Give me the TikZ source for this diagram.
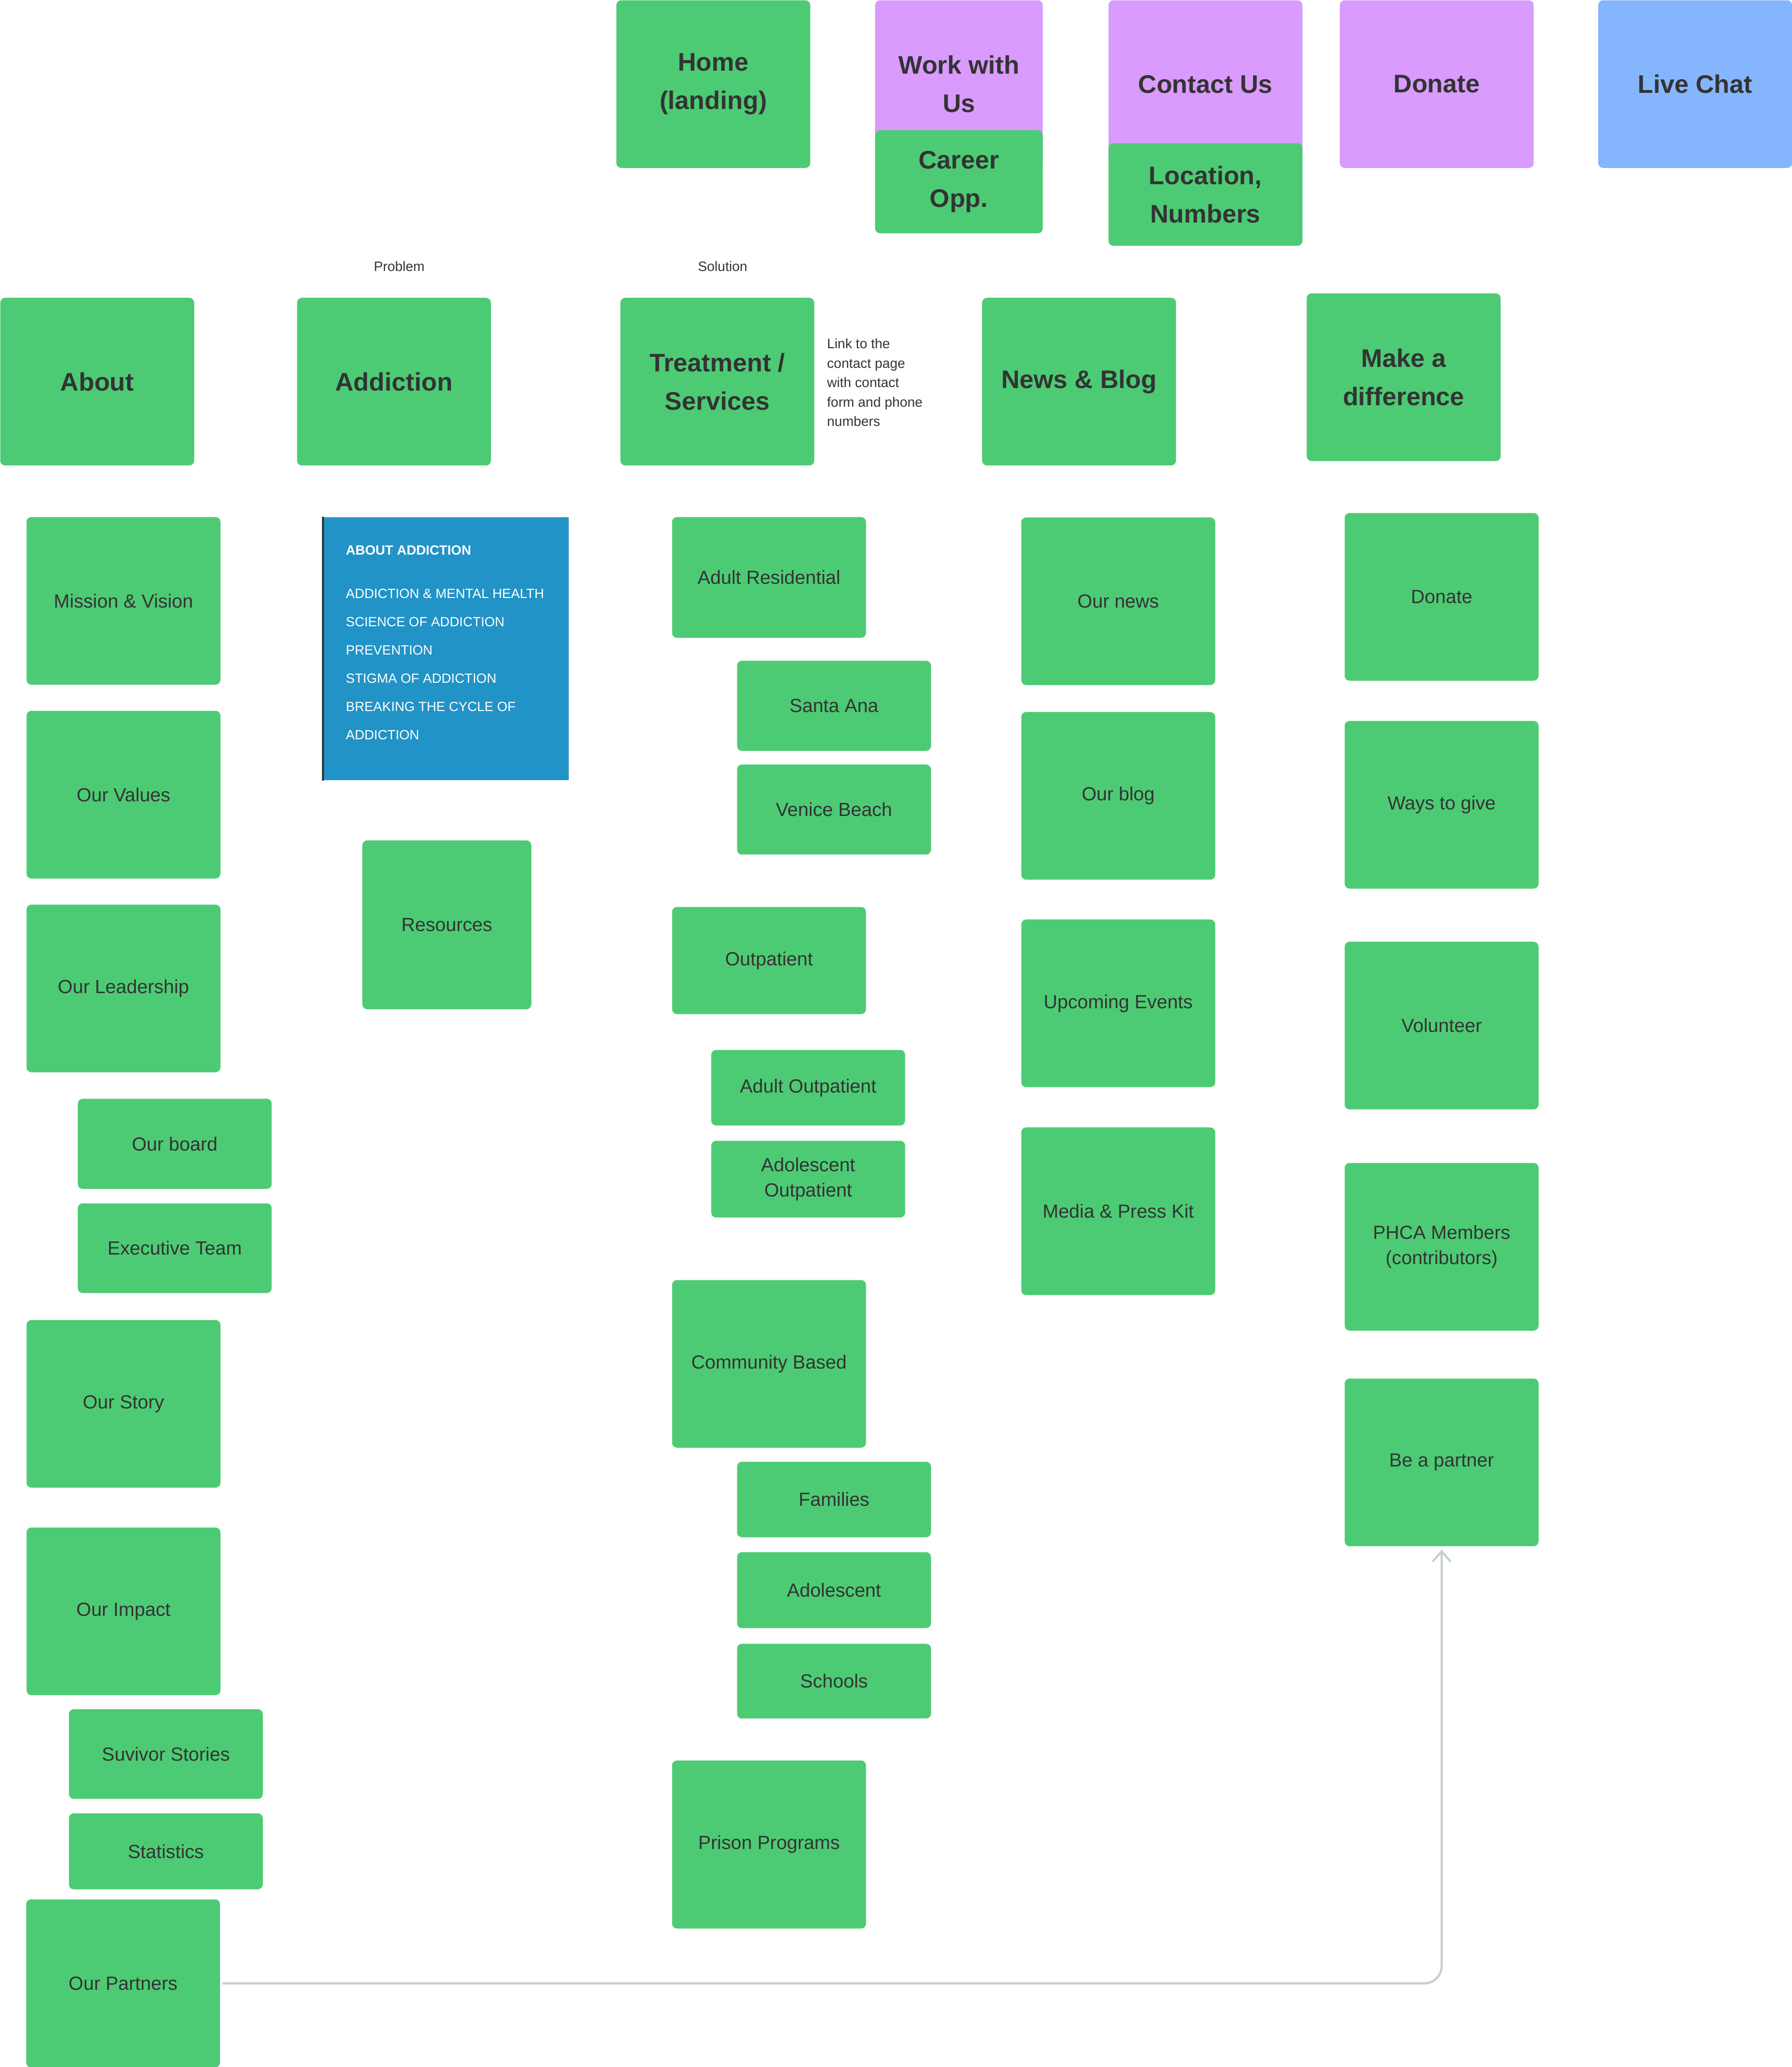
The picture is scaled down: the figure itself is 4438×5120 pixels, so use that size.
\documentclass[tikz,border=0pt]{standalone}
\usepackage{fontspec}
\setmainfont{Liberation Sans}
\usepackage{xcolor}
\usetikzlibrary{arrows.meta,positioning}
\definecolor{StickyGreen}{HTML}{4DCB74}
\definecolor{StickyViolet}{HTML}{D99BFD}
\definecolor{StickyBlue}{HTML}{85B6FD}
\definecolor{InkGrey}{HTML}{333333}
\definecolor{AddictionBlue}{HTML}{2193C7}
\definecolor{LinkGrey}{HTML}{C7CFD3}

\begin{document}
\begin{tikzpicture}[
  x=0.01cm, y=-0.01cm,
  sticky/.style={rectangle, rounded corners=1.2mm, fill=StickyGreen, text=InkGrey, align=center,
    inner sep=0pt, anchor=north west, minimum width=4.8cm, minimum height=4.15cm},
  head/.style={sticky, font=\fontsize{17.9}{27}\selectfont\bfseries},
  item/.style={sticky, font=\fontsize{13.4}{18}\selectfont},
  note/.style={text=InkGrey, font=\fontsize{9.6}{13.7}\selectfont, inner sep=0pt},
  link/.style={-{Straight Barb[length=2.5mm, width=4.4mm]}, line width=0.55mm, draw=LinkGrey,
    rounded corners=4.3mm, shorten <=0.5mm, shorten >=0.8mm}
]
\useasboundingbox (0,0) rectangle (4438,5120);

% top bar
\node[head] (home) at (1526,0) {Home\\(landing)};
\node[head, fill=StickyViolet, minimum width=4.15cm] (work) at (2167,0) {Work with\\Us};
\node[head, minimum width=4.15cm, minimum height=2.55cm] (career) at (2167,322) {Career\\Opp.};
\node[head, fill=StickyViolet] (contact) at (2745,0) {Contact Us};
\node[head, minimum height=2.54cm] (location) at (2745,354) {Location,\\Numbers};
\node[head, fill=StickyViolet] (donatetop) at (3318,0) {Donate};
\node[head, fill=StickyBlue] (livechat) at (3958,0) {Live Chat};

% main sections
\node[note] (problem) at (989,660) {Problem};
\node[note] (solution) at (1790,660) {Solution};
\node[head] (about) at (0,737) {About};
\node[head] (addiction) at (735,737) {Addiction};
\node[head] (treatment) at (1536,737) {Treatment /\\Services};
\node[note, anchor=north west, align=left] (contactnote) at (2048,838) {Link to the\\contact page\\with contact\\form and phone\\numbers};
\node[head] (news) at (2432,737) {News \& Blog};
\node[head] (difference) at (3236,726) {Make a\\difference};

% about
\node[item] (mission) at (65,1280) {Mission \& Vision};
\node[item] (values) at (65,1760) {Our Values};
\node[item] (leadership) at (65,2240) {Our Leadership};
\node[item, minimum height=2.23cm] (board) at (192,2721) {Our board};
\node[item, minimum height=2.22cm] (executive) at (192,2980) {Executive Team};
\node[item] (story) at (65,3269) {Our Story};
\node[item] (impact) at (65,3783) {Our Impact};
\node[item, minimum height=2.22cm] (survivors) at (170,4233) {Suvivor Stories};
\node[item, minimum height=1.88cm] (statistics) at (170,4491) {Statistics};
\node[item, minimum height=4.16cm] (partners) at (64,4704) {Our Partners};

% addiction
\node[sticky, fill=AddictionBlue, rounded corners=0pt, minimum width=6.08cm, minimum height=6.52cm] (aboutaddiction) at (800,1280) {};
\draw[InkGrey, line width=0.4mm] (aboutaddiction.north west) -- (aboutaddiction.south west);
\node[anchor=north west, align=left, text=white, inner sep=0pt, font=\fontsize{9.4}{19.9}\selectfont] (addictionmenu) at (856,1350)
  {\textbf{ABOUT ADDICTION}\\[3.8mm]ADDICTION \& MENTAL HEALTH\\SCIENCE OF ADDICTION\\PREVENTION\\STIGMA OF ADDICTION\\BREAKING THE CYCLE OF\\ADDICTION};
\node[item, minimum width=4.18cm, minimum height=4.18cm] (resources) at (897,2081) {Resources};

% treatment
\node[item, minimum height=2.99cm] (residential) at (1664,1280) {Adult Residential};
\node[item, minimum height=2.23cm] (santaana) at (1825,1636) {Santa Ana};
\node[item, minimum height=2.23cm] (venice) at (1825,1893) {Venice Beach};
\node[item, minimum height=2.65cm] (outpatient) at (1664,2246) {Outpatient};
\node[item, minimum height=1.87cm] (adultout) at (1761,2600) {Adult Outpatient};
\node[item, minimum height=1.9cm] (teenout) at (1761,2825) {Adolescent\\Outpatient};
\node[item] (community) at (1664,3170) {Community Based};
\node[item, minimum height=1.87cm] (families) at (1825,3620) {Families};
\node[item, minimum height=1.88cm] (adolescent) at (1825,3844) {Adolescent};
\node[item, minimum height=1.85cm] (schools) at (1825,4071) {Schools};
\node[item, minimum height=4.16cm] (prison) at (1664,4360) {Prison Programs};

% news
\node[item] (ournews) at (2529,1281) {Our news};
\node[item] (ourblog) at (2529,1763) {Our blog};
\node[item] (events) at (2529,2277) {Upcoming Events};
\node[item] (media) at (2529,2792) {Media \& Press Kit};

% make a difference
\node[item] (donate) at (3330,1270) {Donate};
\node[item] (ways) at (3330,1785) {Ways to give};
\node[item] (volunteer) at (3330,2332) {Volunteer};
\node[item] (members) at (3330,2880) {PHCA Members\\(contributors)};
\node[item] (partner) at (3330,3414) {Be a partner};

\draw[link] (partners.east) -- (partners.east -| partner.south) -- (partner.south);
\end{tikzpicture}
\end{document}
